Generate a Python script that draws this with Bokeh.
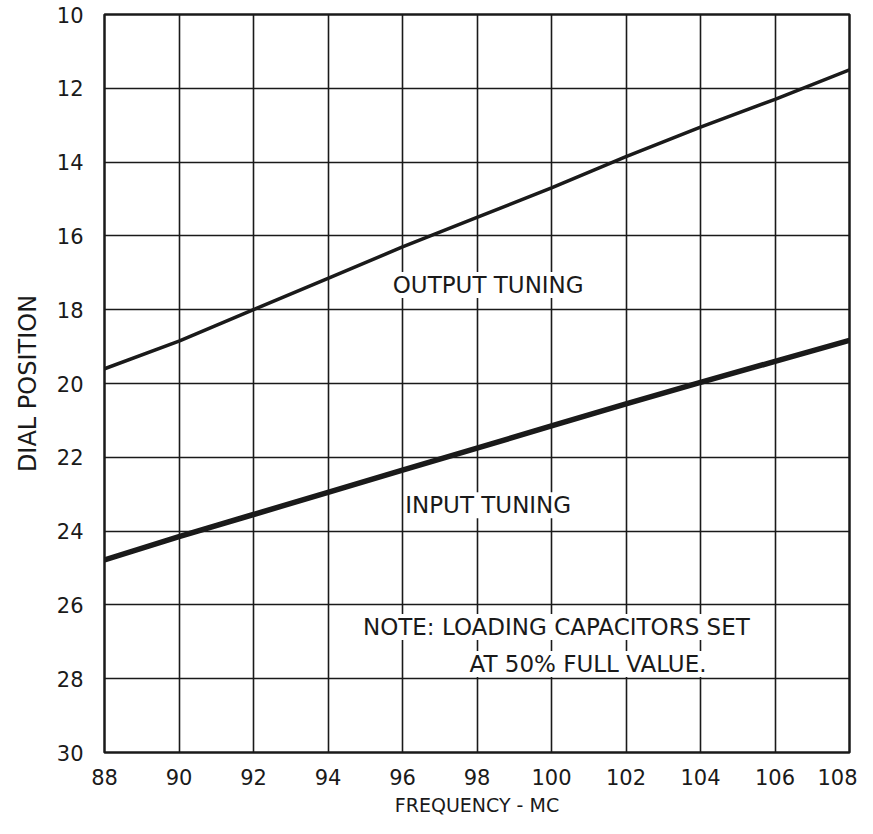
from bokeh.plotting import figure
from bokeh.models import Range1d, FixedTicker, ColumnDataSource
from bokeh.core.properties import value
from bokeh.embed import file_html
from bokeh.resources import INLINE

freq = [88, 90, 92, 94, 96, 98, 100, 102, 104, 106, 108]
output_tuning = [19.6, 18.85, 18.0, 17.15, 16.3, 15.5, 14.7, 13.85, 13.05, 12.3, 11.5]
input_tuning = [24.78, 24.15, 23.55, 22.95, 22.35, 21.75, 21.15, 20.55, 19.97, 19.4, 18.83]

x_ticks = [88, 90, 92, 94, 96, 98, 100, 102, 104, 106, 108]
y_ticks = [10, 12, 14, 16, 18, 20, 22, 24, 26, 28, 30]

labels_x = [98.3, 98.3, 100.13, 100.98]
labels_y = [17.33, 23.3, 26.6, 27.6]
labels_text = ["OUTPUT TUNING", "INPUT TUNING", "NOTE: LOADING CAPACITORS SET", "AT 50% FULL VALUE."]

FONT = "DejaVu Sans"
INK = "#1a1a1a"

p = figure(width=857, height=818, output_backend="svg", toolbar_location=None,
           x_range=Range1d(88, 108), y_range=Range1d(30, 10),
           min_border_left=104, min_border_right=8, min_border_top=14, min_border_bottom=64,
           background_fill_color="white", border_fill_color="white")

p.outline_line_color = INK
p.outline_line_width = 2.5

for ax in (p.xaxis[0], p.yaxis[0]):
    ax.axis_line_color = None
    ax.major_tick_line_color = None
    ax.minor_tick_line_color = None
    ax.major_label_text_font = FONT
    ax.major_label_text_font_size = "21px"
    ax.major_label_text_color = INK
    ax.axis_label_text_font = FONT
    ax.axis_label_text_font_style = "normal"
    ax.axis_label_text_color = INK

p.xaxis.ticker = FixedTicker(ticks=x_ticks)
p.yaxis.ticker = FixedTicker(ticks=y_ticks)
p.xaxis.major_label_standoff = 10
p.yaxis.major_label_standoff = 15
p.xaxis.axis_label = "FREQUENCY - MC"
p.yaxis.axis_label = "DIAL POSITION"
p.xaxis.axis_label_text_font_size = "19px"
p.yaxis.axis_label_text_font_size = "24px"
p.xaxis.axis_label_standoff = 6
p.yaxis.axis_label_standoff = 12

p.xgrid.ticker = FixedTicker(ticks=x_ticks)
p.ygrid.ticker = FixedTicker(ticks=y_ticks)
for g in (p.xgrid[0], p.ygrid[0]):
    g.grid_line_color = INK
    g.grid_line_width = 1.6
    g.grid_line_alpha = 1.0

src = ColumnDataSource(dict(freq=freq, out=output_tuning, inp=input_tuning))
p.line("freq", "out", source=src, line_color=INK, line_width=3.5)
p.line("freq", "inp", source=src, line_color=INK, line_width=5.5)

tsrc = ColumnDataSource(dict(x=labels_x, y=labels_y, t=labels_text))
p.text("x", "y", text="t", source=tsrc, text_font=value(FONT), text_font_size="23px",
       text_align="center", text_baseline="middle", text_color=INK,
       background_fill_color="white")

open("out.html", "w").write(file_html(p, INLINE))
